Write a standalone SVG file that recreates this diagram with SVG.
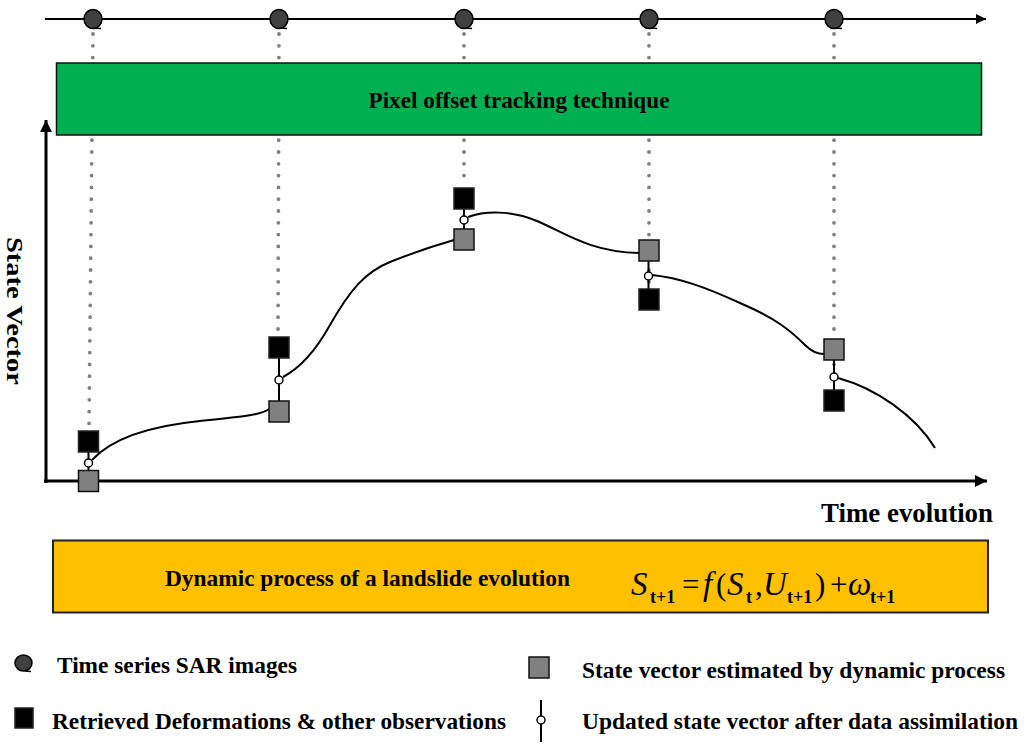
<svg xmlns="http://www.w3.org/2000/svg" width="1024" height="751" viewBox="0 0 1024 751">
<style>
.t{font-family:"Liberation Serif","Times New Roman",serif;font-weight:bold;fill:#000}
.sar{fill:#404040;stroke:#000;stroke-width:1.5}
.blk{fill:#000;stroke:#222;stroke-width:1.5}
.gry{fill:#808080;stroke:#111;stroke-width:1.5}
.upd{fill:#fff;stroke:#000;stroke-width:1.5}
.dot{stroke:#808080;stroke-width:3.8;stroke-linecap:round;stroke-dasharray:0 11.8;fill:none}
.crv{fill:none;stroke:#000;stroke-width:2}
.ax{stroke:#000;stroke-width:3;fill:none}
.m{font-family:"Liberation Serif","Times New Roman",serif;fill:#000}
</style>
<defs>
<marker id="ah" viewBox="0 0 10 10" refX="10" refY="5" markerWidth="5" markerHeight="4" markerUnits="strokeWidth" orient="auto"><path d="M0,0 L10,5 L0,10 z" fill="#000"/></marker>
<marker id="ah2" viewBox="0 0 10 10" refX="10" refY="5" markerWidth="7.5" markerHeight="5" markerUnits="strokeWidth" orient="auto"><path d="M0,0 L10,5 L0,10 z" fill="#000"/></marker>
</defs>

<g id="dotted-lines">
<line class="dot" x1="93" y1="34" x2="89" y2="428"/>
<line class="dot" x1="279" y1="34" x2="278" y2="335"/>
<line class="dot" x1="464" y1="34" x2="464" y2="186"/>
<line class="dot" x1="649" y1="34" x2="649" y2="287"/>
<line class="dot" x1="834" y1="34" x2="834" y2="388"/>
</g>

<g id="timeline">
<line x1="45" y1="19" x2="986" y2="19" stroke="#000" stroke-width="2" marker-end="url(#ah2)"/>
<g class="sar">
<ellipse cx="93" cy="19" rx="9" ry="9.5"/><path d="M95,28 L101,28.5" fill="none"/>
<ellipse cx="279" cy="19" rx="9" ry="9.5"/><path d="M281,28 L287,28.5" fill="none"/>
<ellipse cx="464" cy="19" rx="9" ry="9.5"/><path d="M466,28 L472,28.5" fill="none"/>
<ellipse cx="649" cy="19" rx="9" ry="9.5"/><path d="M651,28 L657,28.5" fill="none"/>
<ellipse cx="834" cy="19" rx="9" ry="9.5"/><path d="M836,28 L842,28.5" fill="none"/>
</g>
</g>

<g id="pixel-offset-box">
<rect x="56.5" y="63" width="925" height="72" fill="#00B050" stroke="#111" stroke-width="1.5"/>
<text class="t" x="519" y="108" font-size="23" text-anchor="middle" textLength="301" lengthAdjust="spacingAndGlyphs">Pixel offset tracking technique</text>
</g>

<g id="axes">
<line class="ax" x1="46" y1="483" x2="46" y2="120" marker-end="url(#ah)"/>
<line class="ax" x1="44" y1="481" x2="987" y2="481" marker-end="url(#ah)"/>
<text class="t" font-size="24" transform="translate(7,237) rotate(90)" textLength="148" lengthAdjust="spacingAndGlyphs">State Vector</text>
<text class="t" x="821" y="522" font-size="27" textLength="172" lengthAdjust="spacingAndGlyphs">Time evolution</text>
</g>

<g id="connectors">
<path class="crv" d="M92,460 C115,435 160,425 200,421 C240,417 262,415 269,409"/>
<path class="crv" d="M283,377 C300,368 315,352 330,325 C350,290 365,272 390,262 C415,252 440,244 454,240"/>
<path class="crv" d="M468,217 C485,211 510,210 537,221 C565,233 590,252 639,253"/>
<path class="crv" d="M652,275 C680,278 705,287 740,303 C775,318 790,330 805,345 C812,352 818,354 824,354"/>
<path class="crv" d="M838,378 C875,388 915,415 935,448"/>
<g stroke="#000" stroke-width="2">
<line x1="88.5" y1="452" x2="88.5" y2="470"/>
<line x1="279" y1="358" x2="279" y2="401"/>
<line x1="464" y1="209" x2="464" y2="229"/>
<line x1="648.5" y1="261" x2="648.5" y2="289"/>
<line x1="834" y1="360" x2="834" y2="390"/>
</g>
</g>

<g id="node-1">
<rect class="blk" x="78.5" y="431" width="20" height="21"/>
<rect class="gry" x="78.5" y="470.5" width="20" height="21"/>
<circle class="upd" cx="88.5" cy="463" r="4"/>
</g>
<g id="node-2">
<rect class="blk" x="269" y="337" width="20" height="21"/>
<rect class="gry" x="269" y="401" width="20" height="21"/>
<circle class="upd" cx="279" cy="380" r="4"/>
</g>
<g id="node-3">
<rect class="blk" x="454" y="188" width="20" height="21"/>
<rect class="gry" x="454" y="229" width="20" height="21"/>
<circle class="upd" cx="464" cy="220" r="4"/>
</g>
<g id="node-4">
<rect class="gry" x="639" y="240" width="20" height="21"/>
<rect class="blk" x="639" y="289" width="20" height="21"/>
<circle class="upd" cx="648.5" cy="276" r="4"/>
</g>
<g id="node-5">
<rect class="gry" x="824" y="339" width="20" height="21"/>
<rect class="blk" x="824" y="390" width="20" height="21"/>
<circle class="upd" cx="834" cy="377" r="4"/>
</g>

<g id="dynamic-process-box">
<rect x="53" y="540.5" width="935" height="72" fill="#FFC000" stroke="#222" stroke-width="2"/>
<text class="t" x="165" y="586" font-size="23" textLength="405" lengthAdjust="spacingAndGlyphs">Dynamic process of a landslide evolution</text>
<g class="m">
<text x="631" y="595" font-size="33" font-style="italic">S</text>
<text x="650" y="603" font-size="18" font-weight="bold">t+1</text>
<text x="682" y="595" font-size="31">=</text>
<text x="703" y="595" font-size="33" font-style="italic">f</text>
<text x="716" y="595" font-size="31">(</text>
<text x="727" y="595" font-size="33" font-style="italic">S</text>
<text x="746" y="603" font-size="18" font-weight="bold">t</text>
<text x="755" y="595" font-size="31">,</text>
<text x="763" y="595" font-size="33" font-style="italic">U</text>
<text x="787" y="603" font-size="18" font-weight="bold">t+1</text>
<text x="815" y="595" font-size="31">)</text>
<text x="830" y="595" font-size="31">+</text>
<text x="848" y="595" font-size="33" font-style="italic">ω</text>
<text x="870" y="603" font-size="18" font-weight="bold">t+1</text>
</g>
</g>

<g id="legend">
<ellipse class="sar" cx="23.5" cy="663" rx="8.5" ry="8"/><path d="M25,671 L31,671.5" fill="none" stroke="#000" stroke-width="1.5"/>
<text class="t" x="57" y="673" font-size="23" textLength="240" lengthAdjust="spacingAndGlyphs">Time series SAR images</text>
<rect class="blk" x="15" y="708" width="18" height="20"/>
<text class="t" x="52" y="729" font-size="23" textLength="454" lengthAdjust="spacingAndGlyphs">Retrieved Deformations &amp; other observations</text>
<rect class="gry" x="529" y="657" width="20" height="21"/>
<text class="t" x="582" y="678" font-size="23" textLength="423" lengthAdjust="spacingAndGlyphs">State vector estimated by dynamic process</text>
<line x1="541" y1="700" x2="541" y2="742" stroke="#000" stroke-width="2"/>
<circle class="upd" cx="541" cy="720" r="4"/>
<text class="t" x="582" y="729" font-size="23" textLength="436" lengthAdjust="spacingAndGlyphs">Updated state vector after data assimilation</text>
</g>
</svg>
